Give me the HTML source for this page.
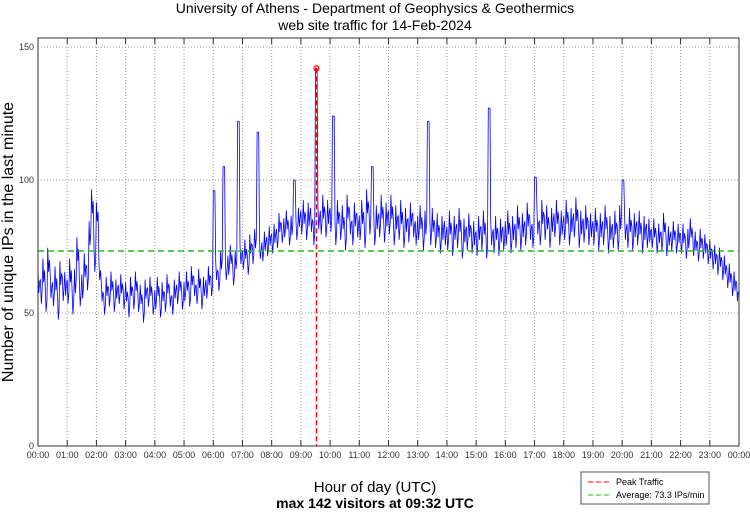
<!DOCTYPE html>
<html><head><meta charset="utf-8"><style>
body{margin:0;background:#fff;font-family:"Liberation Sans",sans-serif}
svg text{font-family:"Liberation Sans",sans-serif}
</style></head><body>
<svg id="c" width="750" height="511" xmlns="http://www.w3.org/2000/svg">
<text x="375" y="13" font-size="14" text-anchor="middle">University of Athens - Department of Geophysics &amp; Geothermics</text>
<text x="375" y="30" font-size="14" text-anchor="middle">web site traffic for 14-Feb-2024</text>
<text transform="translate(13,242) rotate(-90)" font-size="16" text-anchor="middle">Number of unique IPs in the last minute</text>
<text x="375" y="492" font-size="15" text-anchor="middle">Hour of day (UTC)</text>
<text x="375" y="508" font-size="14" font-weight="bold" text-anchor="middle">max 142 visitors at 09:32 UTC</text>
<g id="grid"></g><g id="series"></g><g id="ref"></g><g id="axes"></g>
<g>
<rect x="581" y="472" width="128" height="32" fill="#fff" stroke="#555" stroke-width="1"/>
<line x1="588" y1="482" x2="612" y2="482" stroke="#f00" stroke-dasharray="5,3"/>
<text x="616" y="485" font-size="9">Peak Traffic</text>
<line x1="588" y1="495" x2="612" y2="495" stroke="#2b2" stroke-dasharray="5,3"/>
<text x="616" y="498" font-size="9">Average: 73.3 IPs/min</text>
</g>
</svg>
<script>
const yTicks=[0,50,100,150];
const xHours=[0,1,2,3,4,5,6,7,8,9,10,11,12,13,14,15,16,17,18,19,20,21,22,23,24];
const xLabels=["00:00","01:00","02:00","03:00","04:00","05:00","06:00","07:00","08:00","09:00","10:00","11:00","12:00","13:00","14:00","15:00","16:00","17:00","18:00","19:00","20:00","21:00","22:00","23:00","00:00"];
const average=73.3;
const peakValue=142;
const peakMinute=572;
const stepMinutes=5;
const visitors=[
62,58,66,55,70,60,57,63,52,65,59,61,
58,66,54,62,74,57,60,68,63,80,92,70,
88,66,58,53,60,56,62,54,59,57,61,55,
58,52,60,55,62,54,57,50,59,56,60,53,
55,60,52,58,54,61,56,53,59,57,62,55,
58,62,56,64,60,57,63,55,60,59,64,60,
96,66,62,70,105,66,68,72,64,70,122,72,
70,74,68,76,72,78,118,74,73,77,75,79,
76,80,78,84,80,82,85,79,83,100,81,86,
84,88,82,87,85,80,142,86,84,90,83,88,
85,124,80,88,82,86,78,90,84,80,87,83,
82,88,79,92,84,105,80,86,83,90,81,87,
84,90,80,86,82,88,79,85,81,87,83,80,
82,86,78,84,122,80,85,79,83,77,82,80,
78,84,76,82,79,85,75,81,78,83,77,80,
76,82,78,84,75,127,80,77,82,76,81,78,
80,84,77,82,79,86,78,83,80,87,82,79,
101,84,80,88,82,86,79,85,83,88,80,84,
82,88,80,85,83,89,79,84,81,86,80,83,
80,85,78,83,80,86,77,82,79,84,78,86,
100,82,79,85,78,83,80,84,77,82,79,81,
78,82,76,80,77,84,75,79,77,81,76,80,
76,80,74,78,82,75,77,73,78,74,76,72,
74,70,72,68,71,66,68,63,65,60,62,58];
const hourlySpread=[5,5,4,4,4,4,4,4,4,5,5,5,5,5,5,5,5,5,5,5,5,4,4,4];
const L=38,R=739,T=38,B=446;
const xs=m=>L+(R-L)*m/1440;
const ys=v=>B-(B-47)*v/150;
const NS="http://www.w3.org/2000/svg";
function mk(tag,attrs,parent,txt){const e=document.createElementNS(NS,tag);for(const k in attrs)e.setAttribute(k,attrs[k]);if(txt!==undefined)e.textContent=txt;parent.appendChild(e);return e;}
const grid=document.getElementById('grid'),axes=document.getElementById('axes'),series=document.getElementById('series'),ref=document.getElementById('ref');
yTicks.forEach(v=>{
 const g=mk('line',{x1:L,x2:R,y1:ys(v),y2:ys(v),stroke:'#999','stroke-dasharray':'1,2'},grid);
 
 
 const t=mk('text',{x:L-4,y:ys(v)+3,'font-size':9,'text-anchor':'end',fill:'#333'},axes,v);
 
 
});
xHours.forEach((h,i)=>{
 const x=xs(h*60);
 if(h>0&&h<24){const g=mk('line',{x1:x,x2:x,y1:T,y2:B,stroke:'#999','stroke-dasharray':'1,2'},grid);
 
 }
 mk('line',{x1:x,x2:x,y1:B,y2:B-6,stroke:'#333'},axes);
 mk('line',{x1:x,x2:x,y1:T,y2:T+6,stroke:'#333'},axes);
 const t=mk('text',{x:x,y:B+12,'font-size':9,'text-anchor':'middle',fill:'#333'},axes,xLabels[i]);
 
 
});
const box=mk('rect',{x:L,y:T,width:R-L,height:B-T,fill:'none',stroke:'#333'},axes);


const wig=[0.9,-0.9,0];
const wigPos=[0,1.7,3.4];
const pts=[];
visitors.forEach((v,i)=>{
 const s=v>95?0:hourlySpread[Math.floor(i*stepMinutes/60)];
 wig.forEach((w,j)=>{pts.push(xs(i*stepMinutes+wigPos[j]).toFixed(1)+','+ys(v+w*s).toFixed(1));});
});
const line=mk('polyline',{points:pts.join(' '),fill:'none',stroke:'#00f','stroke-width':0.8},series);


const avg=mk('line',{x1:L,x2:R,y1:ys(average),y2:ys(average),stroke:'#2b2','stroke-width':1.5,'stroke-dasharray':'6,4'},ref);


const pk=mk('line',{x1:xs(peakMinute),x2:xs(peakMinute),y1:ys(peakValue),y2:B,stroke:'#f00','stroke-width':1.5,'stroke-dasharray':'5,3'},ref);


const pc=mk('circle',{cx:xs(peakMinute),cy:ys(peakValue),r:2.5,fill:'none',stroke:'#f00','stroke-width':1.2},ref);


</script>
</body></html>
